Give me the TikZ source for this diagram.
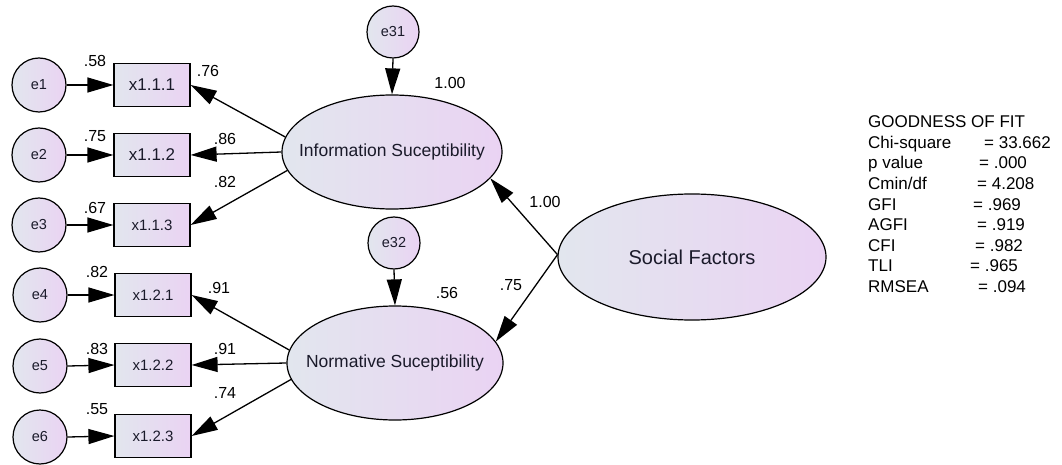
\documentclass[tikz,border=0pt]{standalone}
\usepackage{fontspec}
\setmainfont{Liberation Sans}
\usetikzlibrary{shapes.geometric,arrows.meta}
\definecolor{cL}{HTML}{E2E6EE}
\definecolor{cR}{HTML}{EAD3F3}
\definecolor{txt}{HTML}{1A1A2A}
\newcommand{\fs}[1]{\fontsize{#1}{#1}\selectfont}
\tikzset{
  lat/.style={ellipse, draw=black, line width=1.2pt, left color=cL, right color=cR, inner sep=0pt},
  lattxt/.style={font=\fs{17.5}, text=txt, inner sep=0pt},
  errc/.style={circle, draw=black, line width=1.2pt, left color=cL, right color=cR, inner sep=0pt, minimum size=54pt, text=txt, font=\fs{14.5}},
  obs/.style={rectangle, draw=black, line width=1.2pt, left color=cL, right color=cR, inner sep=0pt, minimum width=76pt, minimum height=43pt, text=txt},
  arr/.style={line width=1.3pt, -{Triangle[length=26pt,width=15pt]}},
  lbl/.style={font=\fs{16}, text=black, inner sep=0pt},
  gof/.style={font=\fs{17}, anchor=base west, inner sep=0pt}
}
\begin{document}
\begin{tikzpicture}[x=1pt,y=-1pt]
\useasboundingbox (0,0) rectangle (1062,465);
% latent
\node[lat, minimum width=220pt, minimum height=114pt, label={[lattxt]center:Information Suceptibility}] (info) at (392,152) {};
\node[lat, minimum width=216pt, minimum height=114pt, label={[lattxt]center:Normative Suceptibility}] (norm) at (395,363) {};
\node[lat, minimum width=268pt, minimum height=126pt, label={[lattxt, font=\fs{20}]center:Social Factors}] (soc) at (692,257) {};
% disturbance
\node[errc, minimum size=52pt] (e31) at (393,32) {e31};
\node[errc, minimum size=52pt] (e32) at (394,243) {e32};
% observed
\node[obs, font=\fs{17}] (x111) at (152,85) {x1.1.1};
\node[obs, font=\fs{17}] (x112) at (152,155) {x1.1.2};
\node[obs, font=\fs{15}] (x113) at (152,225) {x1.1.3};
\node[obs, font=\fs{15}] (x121) at (153,295) {x1.2.1};
\node[obs, font=\fs{15}] (x122) at (153,365) {x1.2.2};
\node[obs, font=\fs{15}] (x123) at (153,436) {x1.2.3};
% errors
\node[errc] (e1) at (39,85) {e1};
\node[errc] (e2) at (39,155) {e2};
\node[errc] (e3) at (39,225) {e3};
\node[errc] (e4) at (40,295) {e4};
\node[errc] (e5) at (40,366) {e5};
\node[errc] (e6) at (40,437) {e6};
% arrows
\draw[arr] (e1.east) -- (x111.west);
\draw[arr] (e2.east) -- (x112.west);
\draw[arr] (e3.east) -- (x113.west);
\draw[arr] (e4.east) -- (x121.west);
\draw[arr] (e5.east) -- (x122.west);
\draw[arr] (e6.east) -- (x123.west);
\draw[arr] (info.172) -- (x111.east);
\draw[arr] (info.180.5) -- (x112.east);
\draw[arr] (info.190.5) -- (x113.east);
\draw[arr] (norm.173) -- (x121.east);
\draw[arr] (norm.180.5) -- (x122.east);
\draw[arr] (norm.189) -- (x123.east);
\draw[arr] (e31.south) -- (info.north);
\draw[arr] (e32.south) -- (norm.north);
\draw[arr] (soc.179) -- (info.-15.5);
\draw[arr] (soc.179) -- (norm.12.7);
% labels
\node[lbl] (l1) at (95,61) {.58};
\node[lbl] (l2) at (95,136) {.75};
\node[lbl] (l3) at (95,208) {.67};
\node[lbl] (l4) at (97,272) {.82};
\node[lbl] (l5) at (97,349) {.83};
\node[lbl] (l6) at (97,409) {.55};
\node[lbl] (m1) at (208,71) {.76};
\node[lbl] (m2) at (225,139) {.86};
\node[lbl] (m3) at (225,182) {.82};
\node[lbl] (m4) at (219,288) {.91};
\node[lbl] (m5) at (225,349) {.91};
\node[lbl] (m6) at (225,393) {.74};
\node[lbl] (r1) at (450,83) {1.00};
\node[lbl] (r2) at (447,293) {.56};
\node[lbl] (s1) at (545,202) {1.00};
\node[lbl] (s2) at (511,285) {.75};
% goodness of fit
\node[gof] (g0) at (868,128) {GOODNESS OF FIT};
\node[gof] (g1) at (868,148.5) {Chi-square};
\node[gof] (g2) at (868,169) {p value};
\node[gof] (g3) at (868,189.5) {Cmin/df};
\node[gof] (g4) at (868,210) {GFI};
\node[gof] (g5) at (868,230.5) {AGFI};
\node[gof] (g6) at (868,251) {CFI};
\node[gof] (g7) at (868,271.5) {TLI};
\node[gof] (g8) at (868,292) {RMSEA};
\node[gof] (v1) at (984,148.5) {= 33.662};
\node[gof] (v2) at (979,169) {= .000};
\node[gof] (v3) at (977,189.5) {= 4.208};
\node[gof] (v4) at (973,210) {= .969};
\node[gof] (v5) at (977,230.5) {= .919};
\node[gof] (v6) at (975,251) {= .982};
\node[gof] (v7) at (970,271.5) {= .965};
\node[gof] (v8) at (978,292) {= .094};
\end{tikzpicture}
\end{document}
